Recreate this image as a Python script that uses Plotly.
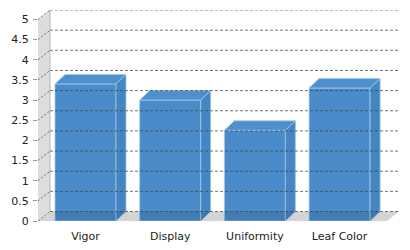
import plotly.graph_objects as go

categories = ["Vigor", "Display", "Uniformity", "Leaf Color"]
values = [3.4, 3.0, 2.25, 3.3]
y_ticks = [0, 0.5, 1, 1.5, 2, 2.5, 3, 3.5, 4, 4.5, 5]

W, H = 410, 250
ML, MR, MT, MB = 38, 11, 10, 28.5
PX_X = 84.7   # px per category
PX_Y = 40.4   # px per unit
plot_w = W - ML - MR
plot_h = H - MT - MB
x0 = -(85.5 - ML) / PX_X
x1 = x0 + plot_w / PX_X
y_top = plot_h / PX_Y

WDX, WDY = 12 / PX_X, 9.5 / PX_Y   # wall depth
BDX, BDY = 10 / PX_X, 9.5 / PX_Y   # bar depth
BW = 61 / PX_X

xs = list(range(len(categories)))
front = "#4a8bc9"
top_c = "#4e90ce"
side_c = "#4585c3"
edge = "rgba(160,200,235,0.8)"

fig = go.Figure()

tx, ty, sx, sy = [], [], [], []
for x, v in zip(xs, values):
    a, b = x - BW / 2, x + BW / 2
    tx += [a, b, b + BDX, a + BDX, a, None]
    ty += [v, v, v + BDY, v + BDY, v, None]
    sx += [b, b + BDX, b + BDX, b, b, None]
    sy += [0, BDY, v + BDY, v, 0, None]

fig.add_trace(go.Scatter(x=sx, y=sy, fill="toself", mode="lines",
                         fillcolor=side_c, line=dict(color=edge, width=1),
                         hoverinfo="skip", showlegend=False))
fig.add_trace(go.Scatter(x=tx, y=ty, fill="toself", mode="lines",
                         fillcolor=top_c, line=dict(color=edge, width=1),
                         hoverinfo="skip", showlegend=False))
fig.add_trace(go.Bar(x=xs, y=values, width=BW, marker=dict(color=front, line=dict(color=edge, width=1)),
                     hoverinfo="skip", showlegend=False))

shapes = []
shapes.append(dict(type="path", xref="x", yref="y", layer="below",
                   path=f"M{x0},0 L{x0},{y_ticks[-1]} L{x0+WDX},{y_ticks[-1]+WDY} L{x0+WDX},{WDY} Z",
                   fillcolor="#dddddd", line=dict(width=0)))
shapes.append(dict(type="line", xref="x", yref="y", layer="below",
                   x0=x0 + WDX, x1=x0 + WDX, y0=WDY, y1=y_ticks[-1] + WDY,
                   line=dict(color="#b4b4b4", width=1)))
shapes.append(dict(type="path", xref="x", yref="y", layer="below",
                   path=f"M{x0},0 L{x1-WDX},0 L{x1},{WDY} L{x0+WDX},{WDY} Z",
                   fillcolor="#ededed", line=dict(width=0)))
shapes.append(dict(type="path", xref="x", yref="y", layer="above",
                   path=f"M{x0},0 L{x1-WDX},0 L{x1},{WDY} L{x0+WDX},{WDY} Z",
                   fillcolor="rgba(0,0,0,0.1)", line=dict(width=0)))
for v in y_ticks:
    shapes.append(dict(type="line", xref="x", yref="y", layer="above",
                       x0=x0 + WDX, x1=x1, y0=v + WDY, y1=v + WDY,
                       line=dict(color="rgba(70,70,70,0.75)", width=1, dash="3px,2px")))
    shapes.append(dict(type="line", xref="x", yref="y", layer="above",
                       x0=x0, x1=x0 + WDX, y0=v, y1=v + WDY,
                       line=dict(color="rgba(70,70,70,0.75)", width=1, dash="2px,2px")))

fig.update_layout(
    width=W, height=H,
    margin=dict(l=ML, r=MR, t=MT, b=MB, autoexpand=False),
    paper_bgcolor="white", plot_bgcolor="white",
    shapes=shapes, hovermode=False,
    font=dict(family="DejaVu Sans", size=11, color="#222222"),
    xaxis=dict(range=[x0, x1], tickvals=xs, ticktext=categories, showgrid=False,
               zeroline=False, showline=False, ticks="", fixedrange=True,
               ticklabelstandoff=7, automargin=False),
    yaxis=dict(range=[0, y_top], tickvals=y_ticks, showgrid=False, zeroline=False,
               showline=False, ticks="outside", ticklen=4, tickcolor="#999999",
               fixedrange=True, ticklabelstandoff=2, automargin=False),
)

fig.write_html("out.html")
